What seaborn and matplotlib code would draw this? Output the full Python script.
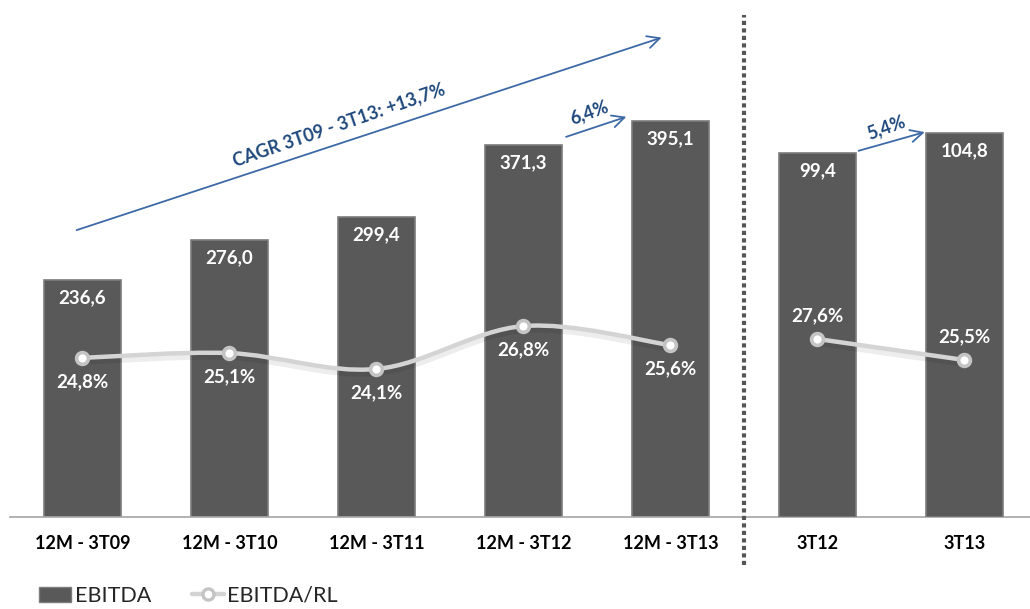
import numpy as np
import pandas as pd
import matplotlib
matplotlib.use('Agg')
import matplotlib.pyplot as plt
import matplotlib.transforms as mtransforms
import seaborn as sns
from matplotlib.path import Path
from matplotlib.patches import PathPatch, Patch
from matplotlib.lines import Line2D

# dados do gráfico
periodos = ['12M - 3T09', '12M - 3T10', '12M - 3T11', '12M - 3T12', '12M - 3T13', '3T12', '3T13']
periodos_12m = periodos[:5]
periodos_tri = periodos[5:]
ebitda_12m = [236.6, 276.0, 299.4, 371.3, 395.1]
ebitda_tri = [99.4, 104.8]
margem_12m = [24.8, 25.1, 24.1, 26.8, 25.6]
margem_tri = [27.6, 25.5]
txt_cagr = 'CAGR 3T09 - 3T13: +13,7%'
txt_var_12m = '6,4%'
txt_var_tri = '5,4%'

COR_BARRA = '#595959'
COR_BORDA = '#7c7c7c'
COR_LINHA = '#d4d4d4'
COR_SETA = '#3d6aa6'
COR_TXT_AZUL = '#1f497d'

sns.set_theme(style='white')
plt.rcParams['font.family'] = ['Lato', 'DejaVu Sans']


def fmt(v, pct=False):
    return f'{v:.1f}'.replace('.', ',') + ('%' if pct else '')


def curva_suave(xs, ys):
    # curva tipo "linha suavizada" do excel (catmull-rom -> bezier)
    pts = np.column_stack([xs, ys]).astype(float)
    ext = np.vstack([pts[0], pts, pts[-1]])
    verts = [pts[0]]
    codes = [Path.MOVETO]
    for i in range(len(pts) - 1):
        p0, p1, p2, p3 = ext[i], ext[i + 1], ext[i + 2], ext[i + 3]
        verts += [p1 + (p2 - p0) / 6, p2 - (p3 - p1) / 6, p2]
        codes += [Path.CURVE4] * 3
    return Path(verts, codes)


fig = plt.figure(figsize=(10.3, 6.09), dpi=100)
ax = fig.add_axes([10 / 1030, 92 / 609, 1020 / 1030, 500 / 609])
ax_r = ax.twinx()
ax_p = ax.twinx()
ax_p2 = ax.twinx()

pos = {p: i for i, p in enumerate(periodos)}

# barras (12 meses no eixo da esquerda, trimestres em outra escala)
df_12m = pd.DataFrame({'periodo': periodos_12m, 'ebitda': ebitda_12m})
df_tri = pd.DataFrame({'periodo': periodos_tri, 'ebitda': ebitda_tri})
sns.barplot(data=df_12m, x='periodo', y='ebitda', order=periodos, color=COR_BARRA,
            saturation=1, width=0.525, edgecolor=COR_BORDA, linewidth=1.2, ax=ax)
sns.barplot(data=df_tri, x='periodo', y='ebitda', order=periodos, color=COR_BARRA,
            saturation=1, width=0.525, edgecolor=COR_BORDA, linewidth=1.2, ax=ax_r)

ax.set_ylim(0, 498.5)
ax_r.set_ylim(0, 136.4)
ax_p.set_ylim(14.79, 46.24)
ax_p2.set_ylim(9.8, 59.8)

for a in (ax, ax_r):
    for barra in a.containers[0]:
        h = barra.get_height()
        if np.isnan(h) or h == 0:
            continue
        a.annotate(fmt(h), (barra.get_x() + barra.get_width() / 2, h),
                   xytext=(0, -13), textcoords='offset points', ha='center', va='center',
                   color='white', fontsize=13.5, fontweight='bold')

# linhas de margem
sombra = mtransforms.ScaledTranslation(0, -2 / 72, fig.dpi_scale_trans)
for a, pers, vals, dy in ((ax_p, periodos_12m, margem_12m, -17), (ax_p2, periodos_tri, margem_tri, 17)):
    xs = [pos[p] for p in pers]
    caminho = curva_suave(xs, vals)
    a.add_patch(PathPatch(caminho, fill=False, edgecolor='#000000', alpha=0.07, lw=6,
                          transform=a.transData + sombra))
    a.add_patch(PathPatch(caminho, fill=False, edgecolor=COR_LINHA, lw=3.2, capstyle='round'))
    a.plot(xs, vals, 'o', ms=8.5, mfc='white', mec='#c4c4c4', mew=2.6, zorder=5)
    for x, v in zip(xs, vals):
        a.annotate(fmt(v, True), (x, v), xytext=(0, dy), textcoords='offset points',
                   ha='center', va='center', color='white', fontsize=13.5, fontweight='bold')

# setas de crescimento
seta = dict(arrowstyle='->', color=COR_SETA, lw=1.3, mutation_scale=22, shrinkA=0, shrinkB=0)
ax.annotate('', xy=(3.94, 478), xytext=(-0.04, 286), arrowprops=seta)
ax.text(1.745, 391, txt_cagr, rotation=19, ha='center', va='center', color=COR_TXT_AZUL,
        fontsize=13, fontweight='bold', rotation_mode='anchor')
ax.annotate('', xy=(3.70, 399), xytext=(3.29, 379), arrowprops=seta)
ax.text(3.445, 403, txt_var_12m, rotation=20, ha='center', va='center', color=COR_TXT_AZUL,
        fontsize=13, fontweight='bold', rotation_mode='anchor')
ax_r.annotate('', xy=(5.73, 105.0), xytext=(5.28, 99.9), arrowprops=seta)
ax_r.text(5.47, 106.4, txt_var_tri, rotation=20, ha='center', va='center', color=COR_TXT_AZUL,
          fontsize=13, fontweight='bold', rotation_mode='anchor')

# separador pontilhado
ax.plot([4.5, 4.5], [-0.096, 1.004], transform=ax.get_xaxis_transform(), clip_on=False,
        ls=(0, (1, 0.8)), lw=3, color='#555555', zorder=6)

for a in (ax, ax_r, ax_p, ax_p2):
    a.set_xlim(-0.493, 6.446)
    a.set_ylabel('')
    a.set_yticks([])
    for lado in ('top', 'right', 'left', 'bottom'):
        a.spines[lado].set_visible(False)
ax.spines['bottom'].set_visible(True)
ax.spines['bottom'].set_color('#a6a6a6')
ax.spines['bottom'].set_linewidth(1.2)
ax.set_xlabel('')
ax.set_xticks(range(len(periodos)))
ax.set_xticklabels(periodos, fontsize=13, fontweight='bold', color='black')
ax.tick_params(axis='x', length=0, pad=13)
for a in (ax_r, ax_p, ax_p2):
    a.set_xlabel('')
    a.tick_params(axis='x', labelbottom=False, length=0)

# legenda
handles = [
    Patch(facecolor=COR_BARRA, edgecolor=COR_BORDA, label='EBITDA'),
    Line2D([0], [0], color=COR_LINHA, lw=3.2, marker='o', ms=8, mfc='white', mec='#c4c4c4',
           mew=2.4, label='EBITDA/RL'),
]
fig.legend(handles=handles, loc='center left', bbox_to_anchor=(0.038, 13 / 609), ncol=2,
           frameon=False, fontsize=15.5, handlelength=1.5, handletextpad=0.15,
           columnspacing=1.9, borderaxespad=0, borderpad=0)

fig.savefig('out.png', dpi=100)
